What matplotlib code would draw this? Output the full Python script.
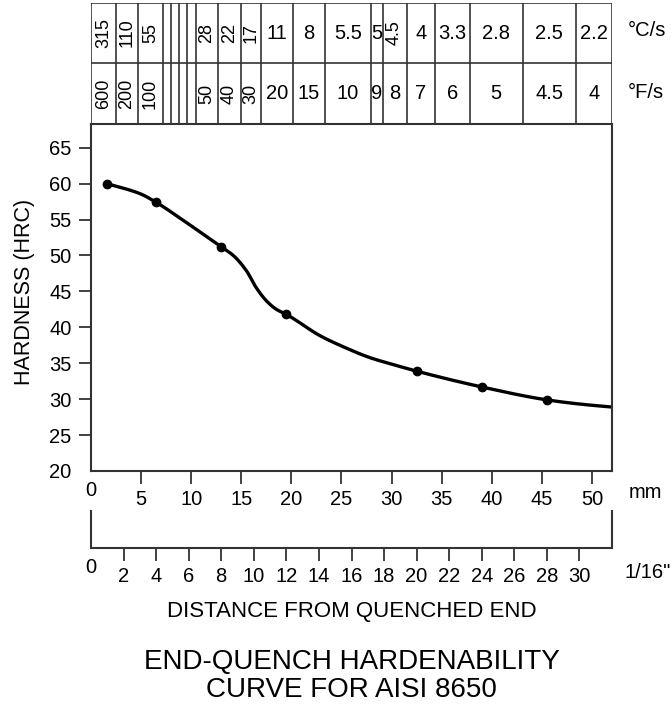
import numpy as np
import matplotlib.pyplot as plt

plt.rcParams['font.family'] = ['Liberation Sans', 'DejaVu Sans']

# Jominy test points (position in 1/16 in., hardness HRC)
jominy_16ths = [1, 4, 8, 12, 20, 24, 28]
hardness_hrc = [60.0, 57.4, 51.2, 41.8, 33.9, 31.7, 29.9]

# trace of the drawn curve (mm, HRC)
curve_mm = [1.6, 4.9, 6.5, 9.5, 13.0, 14.2, 15.5, 16.5, 17.5, 18.5, 19.5, 22.9, 25.0,
            28.0, 29.7, 32.5, 39.0, 45.5, 48.9, 52.0]
curve_hrc = [60.0, 58.6, 57.4, 54.6, 51.2, 50.0, 47.9, 45.5, 43.7, 42.5, 41.8, 38.8, 37.4,
             35.7, 35.0, 33.9, 31.7, 29.9, 29.3, 28.9]

# cooling-rate table above the plot
cell_edges_mm = [0, 2.47, 4.72, 7.16, 7.98, 8.81, 9.61, 10.45, 12.7, 14.94, 16.97,
                 20.19, 23.35, 27.9, 29.1, 31.5, 34.3, 37.8, 43.1, 48.4, 52]
rate_c = ['315', '110', '55', '', '', '', '', '28', '22', '17', '11', '8', '5.5',
          '5', '4.5', '4', '3.3', '2.8', '2.5', '2.2']
rate_f = ['600', '200', '100', '', '', '', '', '50', '40', '30', '20', '15', '10',
          '9', '8', '7', '6', '5', '4.5', '4']

mm_ticks = [5, 10, 15, 20, 25, 30, 35, 40, 45, 50]
sixteenth_ticks = [2, 4, 6, 8, 10, 12, 14, 16, 18, 20, 22, 24, 26, 28, 30]
hrc_ticks = [20, 25, 30, 35, 40, 45, 50, 55, 60, 65]

MM_MAX = 52
SIXTEENTH_MAX = 32
MM_PER_16 = MM_MAX / SIXTEENTH_MAX

W, H = 672, 705
FRAME = '#333333'


def fx(x):
    return x / W


def fy(y):
    return 1 - y / H


def pchip(x, y, xs):
    x = np.asarray(x, float)
    y = np.asarray(y, float)
    h = np.diff(x)
    d = np.diff(y) / h
    m = np.zeros_like(y)
    for k in range(1, len(x) - 1):
        if d[k - 1] * d[k] > 0:
            w1 = 2 * h[k] + h[k - 1]
            w2 = h[k] + 2 * h[k - 1]
            m[k] = (w1 + w2) / (w1 / d[k - 1] + w2 / d[k])
    m[0] = d[0]
    m[-1] = d[-1]
    i = np.clip(np.searchsorted(x, xs) - 1, 0, len(h) - 1)
    t = (xs - x[i]) / h[i]
    return ((2 * t**3 - 3 * t**2 + 1) * y[i] + (t**3 - 2 * t**2 + t) * h[i] * m[i]
            + (-2 * t**3 + 3 * t**2) * y[i + 1] + (t**3 - t**2) * h[i] * m[i + 1])


fig = plt.figure(figsize=(W / 100, H / 100), dpi=100)

left, right = 91, 612
# main plot
ax = fig.add_axes([fx(left), fy(471), fx(right - left), (471 - 124) / H])
ax.set_xlim(0, MM_MAX)
ax.set_ylim(20, 68.3)
xs = np.linspace(curve_mm[0], curve_mm[-1], 400)
ax.plot(xs, pchip(curve_mm, curve_hrc, xs), color='black', lw=2.4, solid_capstyle='round')
ax.plot(np.array(jominy_16ths) * MM_PER_16, hardness_hrc, 'o', color='black', ms=6)
ax.set_xticks(mm_ticks)
ax.set_yticks(hrc_ticks)
ax.tick_params(direction='out', length=9, width=1.3, color=FRAME, labelsize=14.5, pad=5)
ax.yaxis.get_major_ticks()[0].tick1line.set_visible(False)
for s in ax.spines.values():
    s.set_color(FRAME)
    s.set_linewidth(1.5)
ax.annotate('0', xy=(0, 20), xycoords='data', xytext=(0, -14), textcoords='offset points',
            ha='center', va='center', fontsize=14.5)

# lower 1/16 inch scale
ax2 = fig.add_axes([fx(left), fy(548), fx(right - left), (548 - 511) / H])
ax2.set_xlim(0, SIXTEENTH_MAX)
ax2.set_ylim(0, 1)
ax2.set_yticks([])
ax2.set_xticks(sixteenth_ticks)
ax2.tick_params(direction='out', length=9, width=1.3, color=FRAME, labelsize=14.5, pad=5)
ax2.spines['top'].set_visible(False)
for s in ['left', 'right', 'bottom']:
    ax2.spines[s].set_color(FRAME)
    ax2.spines[s].set_linewidth(1.5)
ax2.patch.set_alpha(0)
ax2.annotate('0', xy=(0, 0), xycoords='data', xytext=(0, -14), textcoords='offset points',
             ha='center', va='center', fontsize=14.5)

# cooling-rate table
axt = fig.add_axes([fx(left), fy(124), fx(right - left), (124 - 2.7) / H])
axt.set_xlim(0, MM_MAX)
axt.set_ylim(0, 2)
axt.axis('off')
axt.vlines(cell_edges_mm, 0, 2, color=FRAME, lw=1.2)
axt.hlines([0, 1, 2], 0, MM_MAX, color=FRAME, lw=1.2)
for k in range(len(rate_c)):
    x0, x1 = cell_edges_mm[k], cell_edges_mm[k + 1]
    for row, lab in ((1.5, rate_c[k]), (0.5, rate_f[k])):
        if not lab:
            continue
        rot = 90 if (len(lab) > 1 and x1 - x0 < 2.6) else 0
        axt.text((x0 + x1) / 2, row, lab, rotation=rot, ha='center', va='center',
                 fontsize=13 if rot else 14.5)

fig.text(fx(628), fy(31), '°C/s', ha='left', va='center', fontsize=14.5)
fig.text(fx(628), fy(92), '°F/s', ha='left', va='center', fontsize=14.5)
fig.text(fx(629), fy(492), 'mm', ha='left', va='center', fontsize=14.5)
fig.text(fx(624), fy(573), '1/16"', ha='left', va='center', fontsize=14.5)
fig.text(fx(25), fy(292), 'HARDNESS (HRC)', rotation=90, ha='center', va='center', fontsize=15.5)
fig.text(fx(351.5), fy(612), 'DISTANCE FROM QUENCHED END', ha='center', va='center', fontsize=16)
fig.text(fx(351.5), fy(676), 'END-QUENCH HARDENABILITY\nCURVE FOR AISI 8650',
         ha='center', va='center', fontsize=20, linespacing=1.08)

fig.savefig('out.png', dpi=100)
